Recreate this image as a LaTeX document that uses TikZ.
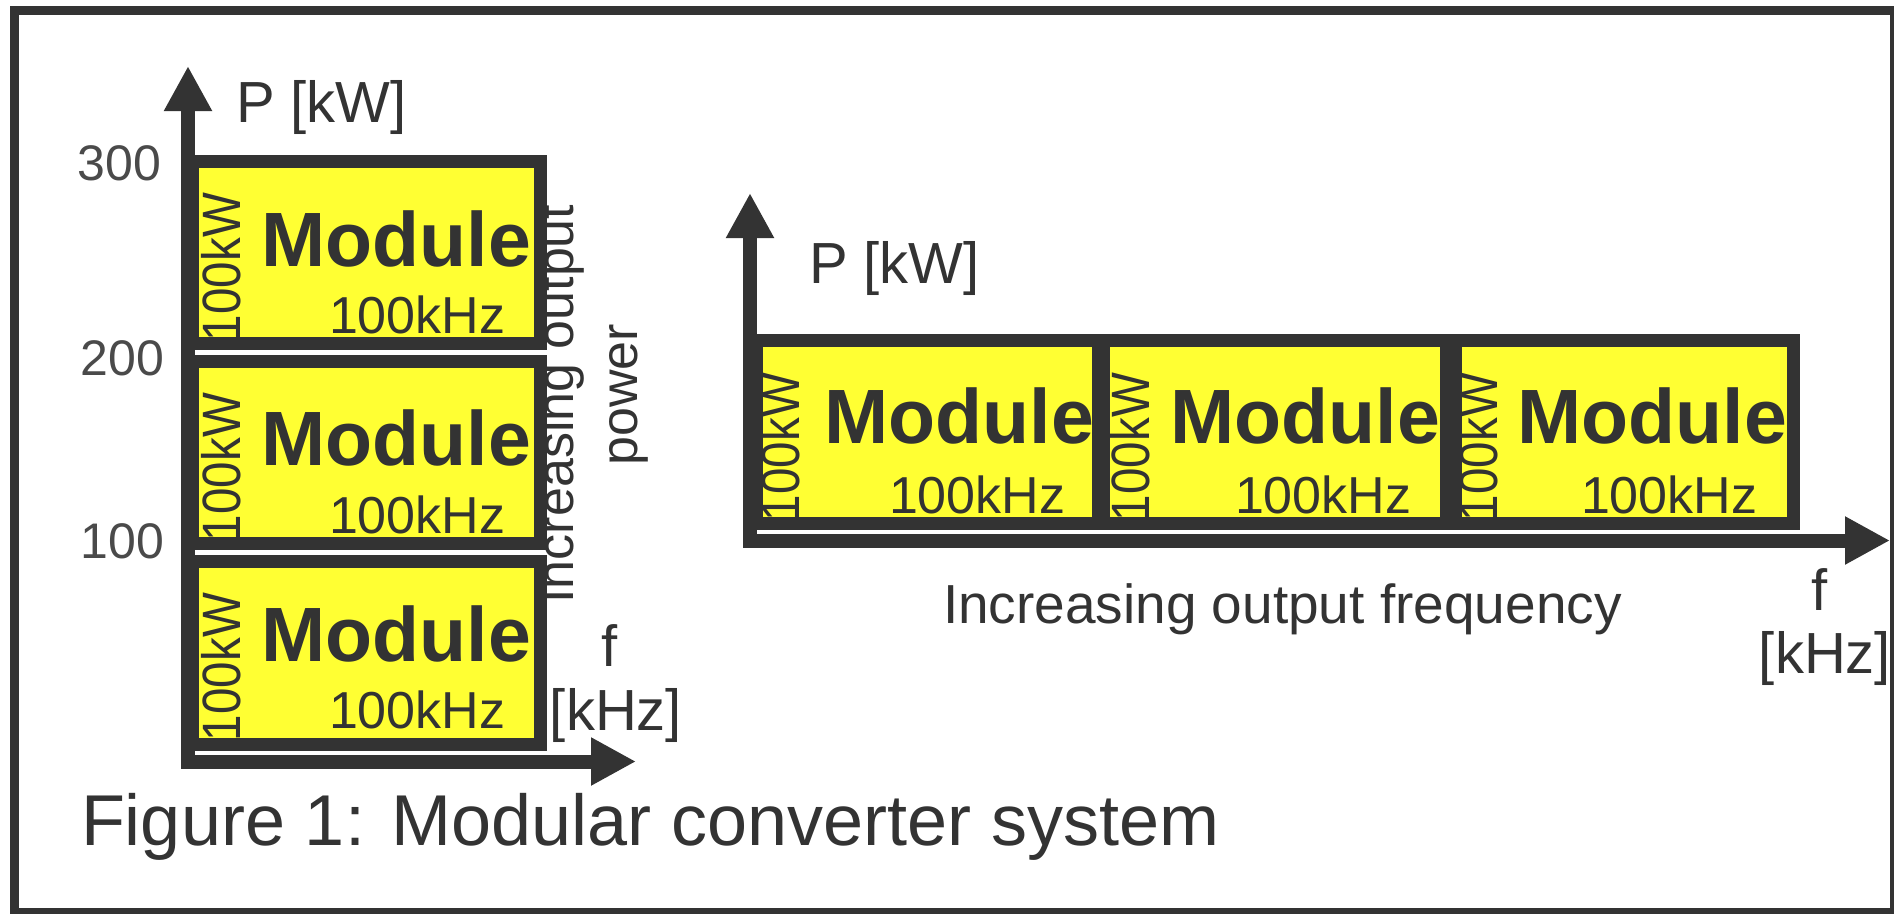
\documentclass[tikz,border=0pt]{standalone}
\usepackage{fontspec}
\setmainfont{Liberation Sans}
\usetikzlibrary{arrows.meta}
\definecolor{dk}{HTML}{333333}
\definecolor{yel}{HTML}{FFFF33}
\definecolor{tk}{HTML}{4A4A4A}
\begin{document}
\begin{tikzpicture}[x=1pt,y=-1pt,
  every node/.style={inner sep=0pt,outer sep=0pt},
  modtxt/.style={font=\fontsize{77pt}{80pt}\selectfont\bfseries,text=dk,anchor=base west},
  khztxt/.style={font=\fontsize{52pt}{56pt}\selectfont,text=dk,anchor=base west},
  kwtxt/.style={font=\fontsize{54pt}{58pt}\selectfont,text=dk,rotate=90,anchor=base west},
  axlbl/.style={font=\fontsize{58pt}{62pt}\selectfont,text=dk},
  ticktxt/.style={font=\fontsize{50pt}{54pt}\selectfont,text=tk,anchor=base east},
  boxline/.style={draw=dk,line width=13pt,line join=miter},
  axtip/.tip={Triangle[width=45pt,length=45pt]},
  axisline/.style={draw=dk,line width=14pt,line join=miter}
]
\useasboundingbox (0,0) rectangle (1894,913);
% outer frame
\draw[dk,line width=9pt] (14.5,10.5) rectangle (1894.5,912.5);

% rotated label (partly hidden behind the boxes)
\node[font=\fontsize{52pt}{56pt}\selectfont,text=dk,rotate=90,anchor=base] (inc1) at (573,404) {Increasing output};
\node[font=\fontsize{52pt}{56pt}\selectfont,text=dk,rotate=90,anchor=base] (inc2) at (637,395) {power};

% ---------- left chart boxes ----------
\foreach \yt/\yb in {161.5/343.5, 361.5/543.5, 561.5/744.5}
  \fill[yel] (192.5,\yt) rectangle (540.5,\yb);
\foreach \i/\ym/\yk/\yw in {1/266/333/341, 2/465/533/541, 3/661/728/741}{
  \node[modtxt] (modL\i) at (261.5,\ym) {Module};
  \node[khztxt] (khzL\i) at (329,\yk) {100kHz};
  \node[kwtxt] (kwL\i) at (240,\yw) {\scalebox{0.88}[1]{100kW}};
}
\foreach \yt/\yb in {161.5/343.5, 361.5/543.5, 561.5/744.5}
  \draw[boxline] (192.5,\yt) rectangle (540.5,\yb);

% ---------- right chart boxes ----------
\fill[yel] (756.5,340.5) rectangle (1793.5,523.5);
\foreach \i/\xm/\xk/\xw in {1/824.5/889/799, 2/1170.5/1235/1149, 3/1517.5/1581/1497}{
  \node[modtxt] (modR\i) at (\xm,443) {Module};
  \node[khztxt] (khzR\i) at (\xk,513) {100kHz};
  \node[kwtxt] (kwR\i) at (\xw,521) {\scalebox{0.88}[1]{100kW}};
}
\draw[boxline] (756.5,340.5) rectangle (1793.5,523.5);
\draw[dk,line width=18pt] (1101,340.5) -- (1101,523.5);
\draw[dk,line width=22pt] (1451,340.5) -- (1451,523.5);

% ---------- axes ----------
\coordinate (LY) at (188,66);
\coordinate (LO) at (188,761.5);
\coordinate (LX) at (636,761.5);
\draw[axisline,axtip-axtip] (LY) -- (LO) -- (LX);
\coordinate (RY) at (750,193);
\coordinate (RO) at (750,540.5);
\coordinate (RX) at (1890,540.5);
\draw[axisline,axtip-axtip] (RY) -- (RO) -- (RX);

% ---------- labels ----------
\node[axlbl,anchor=base west] (PL) at (236,122) {P [kW]};
\node[axlbl,anchor=base west] (PR) at (809,283) {P [kW]};
\node[axlbl,anchor=base] (fL) at (610,666) {f};
\node[axlbl,anchor=base] (uL) at (616,730) {[kHz]};
\node[axlbl,anchor=base] (fR) at (1820,610) {f};
\node[axlbl,anchor=base] (uR) at (1825,673) {[kHz]};
\node[ticktxt] (t300) at (161,180) {300};
\node[ticktxt] (t200) at (164,375) {200};
\node[ticktxt] (t100) at (164,558) {100};
\node[font=\fontsize{55pt}{59pt}\selectfont,text=dk,anchor=base west] (freq) at (943,623) {Increasing output frequency};
\node[font=\fontsize{72pt}{76pt}\selectfont,text=dk,anchor=base west] (cap) at (81,845) {Figure 1: Modular converter system};
\end{tikzpicture}
\end{document}
